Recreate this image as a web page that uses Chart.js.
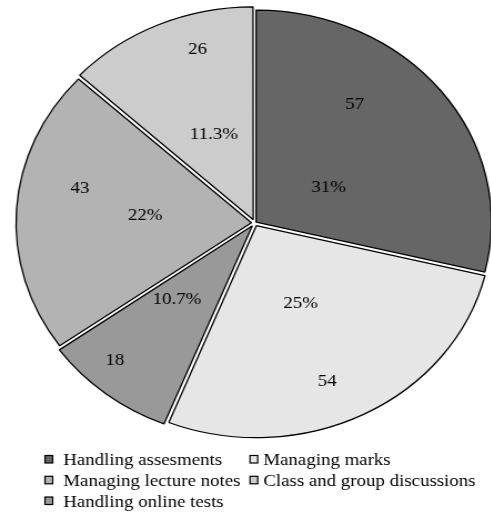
<!DOCTYPE html>
<html>
<head>
<meta charset="utf-8">
<script src="https://cdn.jsdelivr.net/npm/chart.js@4.4.1/dist/chart.umd.min.js"></script>
<style>
  html, body { margin: 0; padding: 0; background: #fff; overflow: hidden; }
  /* the figure is a little wider than it is tall, so the pie reads as an ellipse */
  #wrap { width: 450px; height: 514px; transform: scaleX(1.11); transform-origin: 0 0; }
</style>
</head>
<body>
<div id="wrap"><canvas id="pieChart" width="450" height="514"></canvas></div>
<script>
// slices, clockwise from 12 o'clock
const categories = ['Handling assesments', 'Managing marks', 'Handling online tests', 'Managing lecture notes', 'Class and group discussions'];
const counts = [57, 54, 18, 43, 26];
const shares = ['31%', '25%', '10.7%', '22%', '11.3%'];

const sliceColors = ['#666666', '#e6e6e6', '#999999', '#b3b3b3', '#cccccc'];
// how far each slice is pulled out from the centre
const sliceOffsets = [6, 12, 14, 12, 14];
const FONT = '17px "Liberation Serif", "Times New Roman", Times, serif';

// where the text sits inside each slice: [fraction of the slice angle, fraction of the radius]
const countSpots = [[0.36, 0.70], [0.55, 0.81], [0.63, 0.88], [0.61, 0.76], [0.65, 0.855]];
const shareSpots = [[0.60, 0.355], [0.50, 0.425], [0.63, 0.49], [0.51, 0.467], [0.52, 0.45]];

// legend is two columns, filled top to bottom
const legendOrder = [0, 3, 2, 1, 4];
const legendCols = [{ box: 40.5, text: 57 }, { box: 225.2, text: 237.2 }];
const legendRows = [460.5, 481.3, 502];

const sliceText = {
    id: 'sliceText',
    afterDatasetsDraw(chart) {
        const ctx = chart.ctx;
        const arcs = chart.getDatasetMeta(0).data;
        ctx.save();
        ctx.font = FONT;
        ctx.fillStyle = '#000';
        ctx.textAlign = 'center';
        ctx.textBaseline = 'middle';
        arcs.forEach(function(arc, i) {
            const p = arc.getProps(['x', 'y', 'startAngle', 'endAngle', 'outerRadius'], true);
            const put = function(text, spot) {
                const a = p.startAngle + spot[0] * (p.endAngle - p.startAngle);
                const r = spot[1] * p.outerRadius;
                ctx.fillText(text, p.x + Math.cos(a) * r, p.y + Math.sin(a) * r);
            };
            put(String(counts[i]), countSpots[i]);
            put(shares[i], shareSpots[i]);
        });
        ctx.restore();
    }
};

const columnLegend = {
    id: 'columnLegend',
    afterDraw(chart) {
        const ctx = chart.ctx;
        ctx.save();
        ctx.font = FONT;
        ctx.textBaseline = 'middle';
        ctx.textAlign = 'left';
        legendOrder.forEach(function(idx, n) {
            const col = legendCols[Math.floor(n / legendRows.length)];
            const y = legendRows[n % legendRows.length];
            ctx.fillStyle = sliceColors[idx];
            ctx.fillRect(col.box, y - 5, 7, 7.5);
            ctx.lineWidth = 1.2;
            ctx.strokeStyle = '#000';
            ctx.strokeRect(col.box, y - 5, 7, 7.5);
            ctx.fillStyle = '#000';
            ctx.fillText(categories[idx], col.text, y + 0.5);
        });
        ctx.restore();
    }
};

const ctx = document.getElementById('pieChart').getContext('2d');
const myChart = new Chart(ctx, {
    type: 'pie',
    data: {
        labels: categories,
        datasets: [{
            data: counts,
            backgroundColor: sliceColors,
            borderColor: '#000',
            borderWidth: 1.3,
            offset: sliceOffsets
        }]
    },
    options: {
        responsive: false,
        animation: false,
        layout: { padding: { top: 3.35, bottom: 71.35, left: 9.85, right: 0.85 } },
        plugins: {
            legend: { display: false },
            tooltip: { enabled: false }
        }
    },
    plugins: [sliceText, columnLegend]
});
</script>
</body>
</html>
